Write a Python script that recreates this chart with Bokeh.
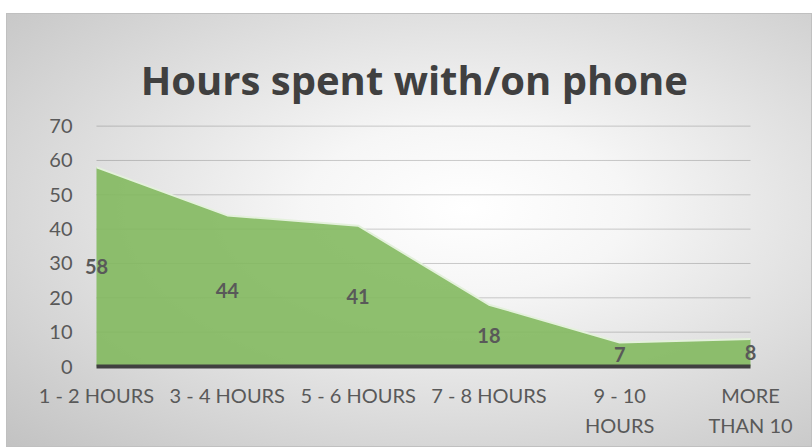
from bokeh.plotting import figure
from bokeh.models import ColumnDataSource, LabelSet, Label, FixedTicker
from bokeh.core.properties import value
from bokeh.embed import file_html
from bokeh.resources import INLINE

# ---- data ----
categories = ["1 - 2 HOURS", "3 - 4 HOURS", "5 - 6 HOURS", "7 - 8 HOURS", "9 - 10\nHOURS", "MORE\nTHAN 10"]
values = [58, 44, 41, 18, 7, 8]
y_ticks = [0, 10, 20, 30, 40, 50, 60, 70]
title_text = "Hours spent with/on phone"

xs = list(range(len(categories)))
n_last = len(categories) - 1
src = ColumnDataSource(dict(
    x=xs,
    v=values,
    mid=[v / 2 for v in values],
    lbl=[str(v) for v in values],
))
grid_src = ColumnDataSource(dict(
    x0=[0] * len(y_ticks),
    x1=[n_last] * len(y_ticks),
    y=y_ticks,
))

pad = 0.107
y_top = 102.8  # frame extends up to hold the title
p = figure(width=806, height=434, output_backend="svg", toolbar_location=None,
           x_range=(-pad, n_last + pad), y_range=(0, y_top),
           min_border_left=76, min_border_right=48, min_border_top=0, min_border_bottom=81)

p.styles = {
    "margin": "13px 0 0 6px",
    "background": "radial-gradient(ellipse farthest-corner at 57% 45%, #ffffff 0%, #f6f6f6 25%, #c2c2c2 100%)",
    "box-shadow": "inset 0 0 0 1px #c0c0c0",
}
p.border_fill_color = None
p.background_fill_color = None
p.outline_line_color = None

# grid lines (only across the category span)
p.segment(x0="x0", x1="x1", y0="y", y1="y", source=grid_src,
          line_color="#404040", line_alpha=0.25, line_width=1, level="underlay")

# area
p.varea(x="x", y1=0, y2="v", source=src, fill_color="#83b95f", fill_alpha=0.9)
p.line(x="x", y="v", source=src, line_color="#e4f1dc", line_width=2)

labels = LabelSet(x="x", y="mid", text="lbl", source=src, text_align="center",
                  text_baseline="middle", text_font=value("Lato"), text_font_style="bold",
                  text_font_size="20px", text_color="#595959")
p.add_layout(labels)

# title
title = Label(x=2.43, y=83.6, text=title_text, text_align="center", text_baseline="alphabetic",
              text_font="Open Sans", text_font_style="bold", text_font_size="40px",
              text_color="#404040")
p.add_layout(title)

# y axis
p.yaxis.ticker = FixedTicker(ticks=y_ticks)
p.yaxis.axis_line_color = None
p.yaxis.major_tick_line_color = None
p.yaxis.minor_tick_line_color = None
p.yaxis.major_tick_out = 0
p.yaxis.major_tick_in = 0
p.yaxis.major_label_standoff = 10
p.yaxis.major_label_text_font = "Lato"
p.yaxis.major_label_text_font_size = "20px"
p.yaxis.major_label_text_color = "#595959"

# x axis
p.xaxis.ticker = FixedTicker(ticks=xs)
p.xaxis.bounds = (0, n_last)
p.xaxis.major_label_overrides = {i: c for i, c in zip(xs, categories)}
p.xaxis.axis_line_color = "#404040"
p.xaxis.axis_line_width = 4
p.xaxis.major_tick_line_color = None
p.xaxis.minor_tick_line_color = None
p.xaxis.major_tick_out = 0
p.xaxis.major_tick_in = 0
p.xaxis.major_label_standoff = 16
p.xaxis.major_label_text_font = "Lato"
p.xaxis.major_label_text_font_size = "20px"
p.xaxis.major_label_text_color = "#595959"
p.xaxis.major_label_text_line_height = 1.28

p.xgrid.grid_line_color = None
p.ygrid.grid_line_color = None

open("out.html", "w").write(file_html(p, INLINE))
